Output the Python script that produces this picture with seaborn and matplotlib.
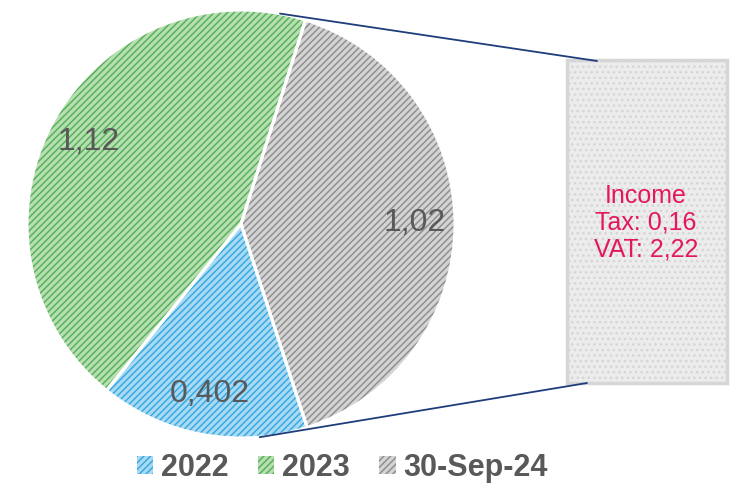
import numpy as np
import matplotlib
matplotlib.use("Agg")
import matplotlib.pyplot as plt
import seaborn as sns
from matplotlib.patches import Rectangle

# data
years = ['2022', '2023', '30-Sep-24']
amounts = [0.402, 1.12, 1.02]
box_lines = ['Income', 'Tax: 0,16', 'VAT: 2,22']

sns.set_theme(style='white')
plt.rcParams['font.family'] = ['Liberation Sans', 'DejaVu Sans']
plt.rcParams['hatch.linewidth'] = 1.1

face_cols = sns.color_palette(['#a8daf4', '#b8dfb4', '#d4d4d4'])
hatch_cols = sns.color_palette(['#3aa9e2', '#58b258', '#909090'])
total = sum(amounts)


def fmt_val(pct):
    v = round(pct * total / 100.0, 3)
    return f"{v:g}".replace('.', ',')


fig = plt.figure(figsize=(7.39, 4.88), dpi=100)
ax = fig.add_axes([0, 0, 1, 1])

cx, cy, rad = 241, 264, 214
start = -72

# textured slices
wedges, _, autotexts = ax.pie(amounts, colors=face_cols, startangle=start, counterclock=False,
                              center=(cx, cy), radius=rad, autopct=fmt_val, pctdistance=0.81,
                              wedgeprops=dict(linewidth=0),
                              textprops=dict(color='#595959', fontsize=23))
for w, hc in zip(wedges, hatch_cols):
    w.set_hatch('/////')
    w.set_edgecolor(hc)
    w.set_linewidth(0)

# white separators
ax.pie(amounts, colors=['none'] * 3, startangle=start, counterclock=False,
       center=(cx, cy), radius=rad,
       wedgeprops=dict(linewidth=2.2, edgecolor='white', facecolor='none'))
for t in autotexts:
    t.set_zorder(5)

# the detail box
bx0, by0, bx1, by1 = 567, 488 - 383, 727, 488 - 60
box = Rectangle((bx0, by0), bx1 - bx0, by1 - by0, facecolor='#ececec',
                edgecolor='#d6d6d6', linewidth=2.5, hatch='...', zorder=3)
ax.add_patch(box)
ax.text((bx0 + bx1) / 2 - 1, (by0 + by1) / 2 - 1, '\n'.join(box_lines), ha='center', va='center',
        color='#e4175c', fontsize=18, linespacing=1.15, zorder=6)

# connector lines from the pie rim to the box
a_top, a_bot = np.deg2rad(79.5), np.deg2rad(-85)
ax.plot([cx + rad * np.cos(a_top), 597], [cy + rad * np.sin(a_top), 488 - 61],
        color='#1f3d7a', linewidth=1.3, zorder=4)
ax.plot([cx + rad * np.cos(a_bot), 587], [cy + rad * np.sin(a_bot), 488 - 383],
        color='#1f3d7a', linewidth=1.3, zorder=4)

ax.set_xlim(0, 739)
ax.set_ylim(0, 488)
ax.set_aspect('equal')
ax.axis('off')

ax.legend(wedges, years, loc='center', bbox_to_anchor=(0.463, 0.041), ncol=3, frameon=False,
          prop=dict(weight='bold', size=22), labelcolor='#595959',
          handlelength=0.55, handleheight=0.55, handletextpad=0.25, columnspacing=0.95)

fig.savefig('out.png', dpi=100)
